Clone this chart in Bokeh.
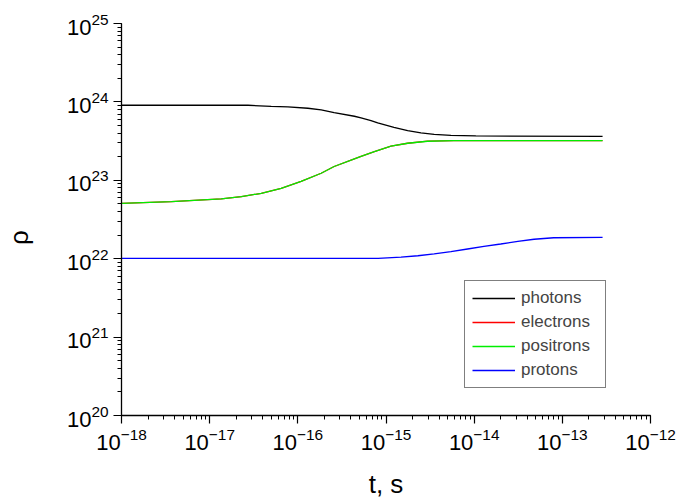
from bokeh.plotting import figure
from bokeh.models import Legend, LegendItem
from bokeh.embed import file_html
from bokeh.resources import INLINE

# ---- data ----
t_photons = [1e-18, 2.72e-17, 4.99e-17, 7.71e-17, 1.30e-16, 1.84e-16, 2.58e-16,
             4.38e-16, 5.21e-16, 6.76e-16, 8.05e-16, 1.23e-15, 1.76e-15, 2.49e-15,
             3.52e-15, 5.45e-15, 1.045e-14, 2.86e-13]
rho_photons = [9.06e23, 9.06e23, 8.79e23, 8.65e23, 8.30e23, 7.91e23, 7.31e23,
               6.56e23, 6.25e23, 5.78e23, 5.40e23, 4.74e23, 4.31e23, 4.03e23,
               3.86e23, 3.75e23, 3.68e23, 3.64e23]

t_leptons = [1e-18, 3.68e-18, 1.355e-17, 2.29e-17, 3.85e-17, 6.47e-17, 1.09e-16,
             1.84e-16, 2.58e-16, 4.38e-16, 5.21e-16, 7.38e-16, 1.14e-15, 1.76e-15,
             2.96e-15, 5.89e-15, 2.86e-13]
rho_electrons = [5.08e22, 5.35e22, 5.78e22, 6.19e22, 6.82e22, 7.91e22, 9.70e22,
                 1.23e23, 1.50e23, 1.88e23, 2.02e23, 2.32e23, 2.72e23, 2.97e23,
                 3.16e23, 3.21e23, 3.21e23]
rho_positrons = [5.08e22, 5.35e22, 5.78e22, 6.19e22, 6.82e22, 7.91e22, 9.70e22,
                 1.23e23, 1.50e23, 1.88e23, 2.02e23, 2.32e23, 2.72e23, 2.97e23,
                 3.15e23, 3.21e23, 3.21e23]

t_protons = [1e-18, 8.13e-16, 1.48e-15, 2.30e-15, 3.52e-15, 5.45e-15, 8.41e-15,
             1.29e-14, 2.00e-14, 3.13e-14, 4.78e-14, 7.98e-14, 2.86e-13]
rho_protons = [1.01e22, 1.01e22, 1.05e22, 1.09e22, 1.15e22, 1.23e22, 1.33e22,
               1.44e22, 1.54e22, 1.66e22, 1.77e22, 1.85e22, 1.87e22]

series_names = ["photons", "electrons", "positrons", "protons"]
series_colors = ["#000000", "#ff0000", "#00ee00", "#0000ff"]

x_limits = (1e-18, 1e-12)
y_limits = (1e20, 1e25)
x_title = "t, s"
# trailing no-break spaces shift the rotated symbol slightly below centre, as in the original
y_title = "ρ" + "\u00a0" * 5

FONT = "Liberation Sans"

p = figure(width=676, height=502, x_axis_type="log", y_axis_type="log",
           x_range=x_limits, y_range=y_limits,
           output_backend="svg", toolbar_location=None,
           min_border_left=120, min_border_top=23, min_border_right=26,
           min_border_bottom=87)
p.outline_line_color = None
p.grid.visible = False
p.background_fill_color = "white"

lines = []
lines.append(p.line(t_photons, rho_photons, line_color=series_colors[0], line_width=1.3))
lines.append(p.line(t_leptons, rho_electrons, line_color=series_colors[1], line_width=1.3))
lines.append(p.line(t_leptons, rho_positrons, line_color=series_colors[2], line_width=1.3))
lines.append(p.line(t_protons, rho_protons, line_color=series_colors[3], line_width=1.3))

for ax in (p.xaxis[0], p.yaxis[0]):
    ax.axis_line_color = "black"
    ax.axis_line_width = 1.3
    ax.major_tick_line_color = "black"
    ax.minor_tick_line_color = "black"
    ax.major_tick_line_width = 1.2
    ax.major_tick_in = 0
    ax.major_tick_out = 8
    ax.minor_tick_in = 0
    ax.minor_tick_out = 4
    ax.major_label_text_font = FONT
    ax.major_label_text_font_size = "22px"
    ax.major_label_text_color = "black"
    ax.axis_label_text_font = FONT
    ax.axis_label_text_font_style = "normal"
    ax.axis_label_text_font_size = "26px"
    ax.axis_label_text_color = "black"

p.xaxis.axis_label = x_title
p.yaxis.axis_label = y_title
p.xaxis.major_label_standoff = 4
p.yaxis.major_label_standoff = 5
p.xaxis.axis_label_standoff = 16
p.yaxis.axis_label_standoff = 30

legend = Legend(items=[LegendItem(label=n, renderers=[r]) for n, r in zip(series_names, lines)],
                location=(343, 27))
legend.border_line_color = "black"
legend.border_line_width = 1
legend.background_fill_alpha = 1
legend.label_text_font = FONT
legend.label_text_font_size = "17px"
legend.label_width = 77
legend.glyph_width = 43
legend.glyph_height = 20
legend.label_height = 20
legend.spacing = 4
legend.padding = 7
legend.margin = 0
legend.label_standoff = 6
p.add_layout(legend)

open("out.html", "w").write(file_html(p, INLINE))
